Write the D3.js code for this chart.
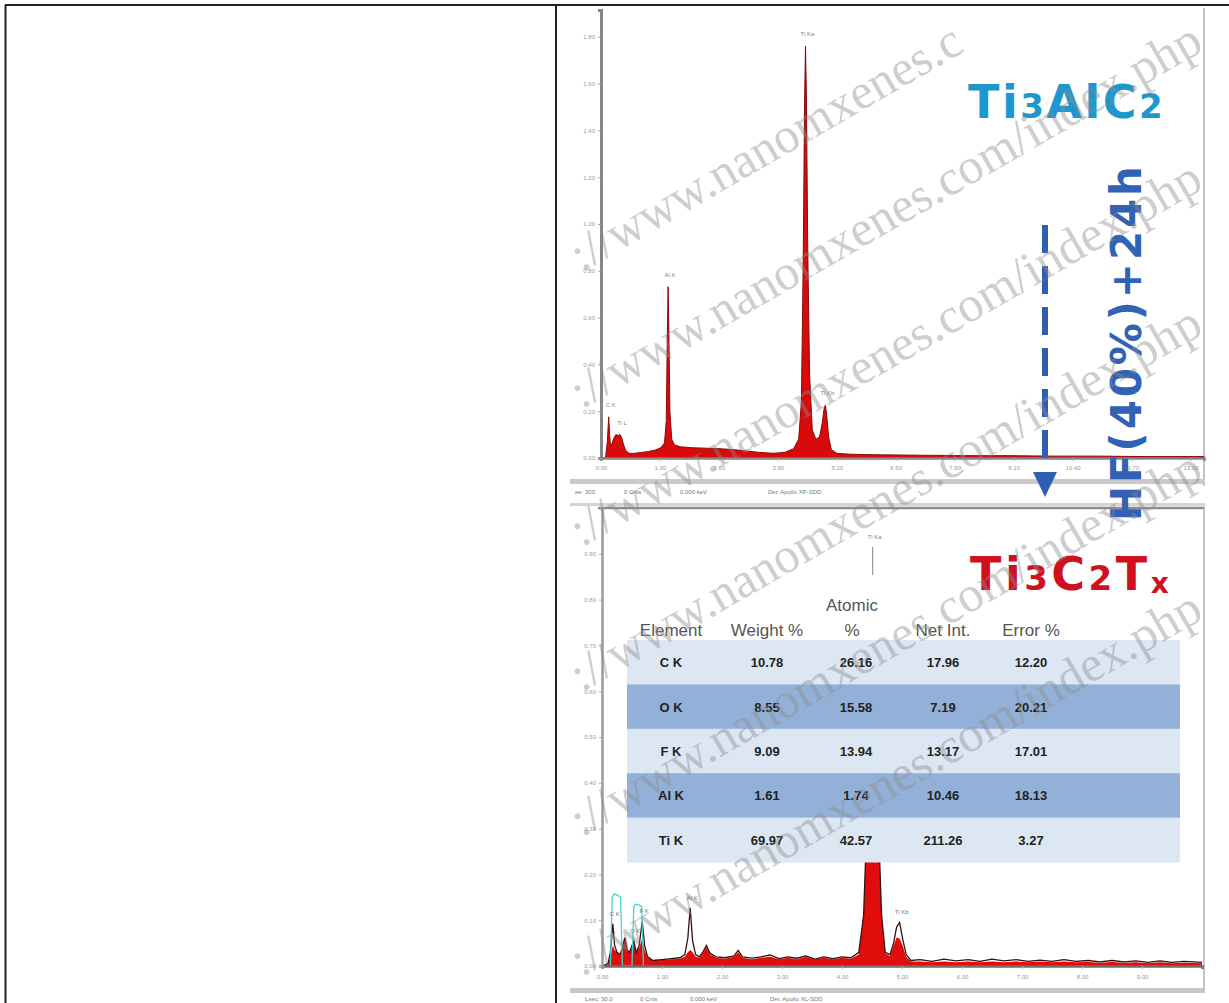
<!DOCTYPE html>
<html><head><meta charset="utf-8">
<script src="https://cdn.jsdelivr.net/npm/d3@7"></script>
<style>body{margin:0;background:#fff}svg{display:block}</style>
</head><body>
<svg id="c" width="1229" height="1003"></svg>
<script>
// ---------- DATA ----------
// Top spectrum: Ti3AlC2 (energy keV, intensity in axis units)
const topE = [0.00,0.10,0.14,0.17,0.19,0.21,0.24,0.28,0.33,0.38,0.42,0.46,0.50,0.55,0.62,0.75,0.90,1.05,1.20,1.32,1.40,1.44,1.46,1.48,1.50,1.52,1.56,1.62,1.75,2.00,2.30,2.60,2.90,3.20,3.50,3.80,4.05,4.25,4.36,4.42,4.46,4.49,4.51,4.53,4.56,4.60,4.66,4.74,4.82,4.88,4.92,4.95,4.98,5.02,5.08,5.20,5.50,6.00,7.00,8.00,9.00,10.00,11.00,12.00,13.30];
const topV = [0,0,0.35,0.88,0.5,0.25,0.3,0.42,0.5,0.48,0.5,0.42,0.28,0.15,0.1,0.1,0.12,0.14,0.17,0.22,0.32,0.8,2.4,3.66,2.5,1.0,0.4,0.28,0.24,0.22,0.21,0.2,0.18,0.15,0.12,0.1,0.12,0.2,0.4,1.2,4.2,7.6,8.8,7.8,4.5,1.8,0.6,0.4,0.45,0.75,1.05,1.13,0.9,0.45,0.18,0.1,0.08,0.07,0.06,0.05,0.05,0.04,0.04,0.03,0.03];
const topXTicks = [0,1.3,2.6,3.9,5.2,6.5,7.8,9.1,10.4,11.7,13.0];
const topYTicks = [0,1,2,3,4,5,6,7,8,9];
const topYLabels = ["0.00","0.20","0.40","0.60","0.80","1.00","1.20","1.40","1.60","1.80"];
const topPeakNames = ["C K","Ti L","Al K","Ti Ka","Ti Kb"];
const topPeakE = [0.17,0.42,1.48,4.51,4.95];
const topPeakV = [0.88,0.5,3.66,8.8,1.13];

// Bottom spectrum: Ti3C2Tx
const botE = [0.00,0.10,0.14,0.18,0.21,0.25,0.30,0.34,0.38,0.42,0.46,0.50,0.53,0.57,0.62,0.67,0.71,0.76,0.85,1.00,1.15,1.30,1.38,1.43,1.47,1.51,1.56,1.62,1.68,1.74,1.80,1.90,2.05,2.20,2.27,2.34,2.50,2.65,2.80,2.95,3.10,3.25,3.40,3.55,3.70,3.85,4.00,4.15,4.28,4.36,4.40,4.45,4.51,4.57,4.62,4.66,4.72,4.80,4.86,4.91,4.96,5.01,5.07,5.15,5.30,5.50,5.70,5.90,6.10,6.30,6.50,6.70,6.90,7.10,7.30,7.50,7.70,7.90,8.10,8.30,8.50,8.70,8.90,9.10,9.30,9.50,9.70,10.00];
const botBlack = [0,0.05,0.3,0.92,0.45,0.3,0.25,0.4,0.62,0.35,0.3,0.45,0.55,0.3,0.45,0.98,0.45,0.2,0.12,0.14,0.16,0.18,0.25,0.6,1.27,0.55,0.25,0.2,0.3,0.45,0.28,0.2,0.18,0.22,0.34,0.2,0.17,0.2,0.24,0.16,0.2,0.17,0.22,0.15,0.2,0.16,0.2,0.18,0.3,1.1,2.6,6.0,8.3,6.0,2.6,1.1,0.3,0.25,0.5,0.85,0.95,0.6,0.25,0.12,0.14,0.1,0.15,0.11,0.14,0.1,0.15,0.11,0.14,0.1,0.13,0.1,0.14,0.1,0.12,0.09,0.12,0.09,0.11,0.08,0.11,0.08,0.1,0.08];
const botRed = [0,0.03,0.2,0.45,0.35,0.3,0.25,0.4,0.55,0.35,0.3,0.4,0.5,0.3,0.4,0.6,0.35,0.18,0.12,0.13,0.15,0.16,0.2,0.3,0.35,0.3,0.2,0.18,0.28,0.42,0.25,0.18,0.16,0.2,0.3,0.18,0.15,0.18,0.2,0.15,0.18,0.15,0.2,0.14,0.18,0.15,0.18,0.16,0.25,1.1,2.6,6.0,8.3,6.0,2.6,1.1,0.28,0.22,0.45,0.62,0.6,0.45,0.2,0.1,0.1,0.08,0.1,0.08,0.1,0.08,0.1,0.08,0.1,0.08,0.1,0.08,0.1,0.08,0.09,0.07,0.09,0.07,0.08,0.06,0.08,0.06,0.07,0.06];
const cyanE = [0.14,0.17,0.20,0.26,0.31,0.34,0.50,0.53,0.56,0.62,0.66,0.69];
const cyanV = [0,1.5,1.57,1.55,1.5,0,0,1.3,1.35,1.33,1.3,0];
const botXTicks = [0,1,2,3,4,5,6,7,8,9];
const botYTicks = [0,1,2,3,4,5,6,7,8,9];
const botYLabels = ["0.00","0.10","0.20","0.30","0.40","0.50","0.60","0.70","0.80","0.90"];
const botPeakNames = ["C K","O K","F K","Al K","Ti Kb"];
const botPeakE = [0.18,0.52,0.67,1.47,4.96];
const botPeakV = [0.92,0.55,0.98,1.27,0.95];

// EDS quantification table
const tableHeader = ["Element","Weight %","Atomic %","Net Int.","Error %"];
const elements = ["C K","O K","F K","Al K","Ti K"];
const weightPct = [10.78,8.55,9.09,1.61,69.97];
const atomicPct = [26.16,15.58,13.94,1.74,42.57];
const netInt = [17.96,7.19,13.17,10.46,211.26];
const errorPct = [12.20,20.21,17.01,18.13,3.27];

const watermarkText = "p://www.nanomxenes.com/index.php";

// ---------- DRAW ----------
const svg = d3.select("#c");
svg.append("rect").attr("width",1229).attr("height",1003).attr("fill","#fff");

// table-cell borders
const bd = svg.append("g").attr("stroke","#222").attr("stroke-width",2);
bd.append("line").attr("x1",5).attr("x2",1229).attr("y1",5).attr("y2",5);
bd.append("line").attr("x1",5.5).attr("x2",5.5).attr("y1",5).attr("y2",1003);
bd.append("line").attr("x1",556).attr("x2",556).attr("y1",5).attr("y2",1003);

const tickFont = "Liberation Sans, Arial, sans-serif";

// ----- Top spectrum -----
const tx = d3.scaleLinear().domain([0,13.3]).range([601,1204]);
const ty = d3.scaleLinear().domain([0,9.57]).range([458,10]);
const topData = topE.map((e,i)=>[e,topV[i]]);

svg.append("line").attr("x1",1204).attr("x2",1204).attr("y1",8).attr("y2",486).attr("stroke","#c4c4c4").attr("stroke-width",2);

svg.append("path").datum(topData)
  .attr("d", d3.area().x(d=>tx(d[0])).y0(ty(0)).y1(d=>ty(d[1])))
  .attr("fill","#d80a0a").attr("stroke","#8a0a0a").attr("stroke-width",1);

const gxT = svg.append("g").attr("transform",`translate(0,${ty(0)})`)
  .call(d3.axisBottom(tx).tickValues(topXTicks).tickFormat(d3.format(".2f")).tickSize(3).tickPadding(5));
const gyT = svg.append("g").attr("transform",`translate(${tx(0)},0)`)
  .call(d3.axisLeft(ty).tickValues(topYTicks).tickFormat((d,i)=>topYLabels[i]).tickSize(3).tickPadding(3));
gxT.select(".domain").attr("stroke","#858585").attr("stroke-width",2.5);
gyT.select(".domain").attr("stroke","#858585").attr("stroke-width",3);
[gxT,gyT].forEach(g=>{
  g.selectAll(".tick line").attr("stroke","#aaa");
  g.selectAll(".tick text").attr("fill","#9a9a9a").attr("font-size",6).attr("font-family",tickFont);
});

svg.append("g").selectAll("text").data(topPeakNames).join("text")
  .attr("x",(d,i)=>tx(topPeakE[i])+2).attr("y",(d,i)=>ty(topPeakV[i])-10)
  .attr("text-anchor","middle").attr("font-size",6).attr("fill","#888").attr("font-family",tickFont)
  .text(d=>d);

// status bar under top spectrum
svg.append("rect").attr("x",570).attr("y",479).attr("width",635).attr("height",5).attr("fill","#cacaca");
const stat1 = ["ee: 300","0 Cnts","0.000 keV","Det: Apollo XP-SDD"];
const statX = [575,624,680,768];
svg.append("g").selectAll("text").data(stat1).join("text")
  .attr("x",(d,i)=>statX[i]).attr("y",494).attr("font-size",6).attr("fill","#777").attr("font-family",tickFont).text(d=>d);
svg.append("rect").attr("x",570).attr("y",503).attr("width",635).attr("height",3).attr("fill","#d4d4d4");

// ----- Bottom spectrum -----
const bx = d3.scaleLinear().domain([0,10]).range([602,1202]);
const by = d3.scaleLinear().domain([0,10]).range([966,508]);

svg.append("line").attr("x1",598).attr("x2",1205).attr("y1",508).attr("y2",508).attr("stroke","#8c8c8c").attr("stroke-width",2.5);
svg.append("line").attr("x1",1204).attr("x2",1204).attr("y1",508).attr("y2",988).attr("stroke","#c4c4c4").attr("stroke-width",2);

const redData = botE.map((e,i)=>[e,botRed[i]]);
const blackData = botE.map((e,i)=>[e,botBlack[i]]);
const cyanData = cyanE.map((e,i)=>[e,cyanV[i]]);

svg.append("path").datum(redData)
  .attr("d", d3.area().x(d=>bx(d[0])).y0(by(0)).y1(d=>by(d[1])))
  .attr("fill","#e00d0d");
svg.append("path").datum(blackData)
  .attr("d", d3.line().x(d=>bx(d[0])).y(d=>by(d[1])))
  .attr("fill","none").attr("stroke","#3a1010").attr("stroke-width",1.3);
svg.append("path").datum(cyanData)
  .attr("d", d3.line().x(d=>bx(d[0])).y(d=>by(d[1])))
  .attr("fill","none").attr("stroke","#3ed6d6").attr("stroke-width",1.3);

const gxB = svg.append("g").attr("transform",`translate(0,${by(0)})`)
  .call(d3.axisBottom(bx).tickValues(botXTicks).tickFormat(d3.format(".2f")).tickSize(3).tickPadding(6));
const gyB = svg.append("g").attr("transform",`translate(${bx(0)},0)`)
  .call(d3.axisLeft(by).tickValues(botYTicks).tickFormat((d,i)=>botYLabels[i]).tickSize(3).tickPadding(3));
gxB.select(".domain").attr("stroke","#6f6f6f").attr("stroke-width",2.5);
gyB.select(".domain").attr("stroke","#9a9a9a").attr("stroke-width",2.5);
[gxB,gyB].forEach(g=>{
  g.selectAll(".tick line").attr("stroke","#aaa");
  g.selectAll(".tick text").attr("fill","#9a9a9a").attr("font-size",6).attr("font-family",tickFont);
});

svg.append("g").selectAll("text").data(botPeakNames).join("text")
  .attr("x",(d,i)=>bx(botPeakE[i])+2).attr("y",(d,i)=>by(botPeakV[i])-8)
  .attr("text-anchor","middle").attr("font-size",6).attr("fill","#777").attr("font-family",tickFont)
  .text(d=>d);

// status bar under bottom spectrum
svg.append("rect").attr("x",570).attr("y",988).attr("width",635).attr("height",5).attr("fill","#c6c6c6");
const stat2 = ["Lsec: 30.0","0 Cnts","0.000 keV","Det: Apollo XL-SDD"];
const stat2X = [585,640,690,770];
svg.append("g").selectAll("text").data(stat2).join("text")
  .attr("x",(d,i)=>stat2X[i]).attr("y",1001).attr("font-size",6).attr("fill","#777").attr("font-family",tickFont).text(d=>d);

// ----- Table (overlaid on the spectrum) -----
const rowY = d3.scaleBand().domain(elements).range([640,862]);
const colX = [671,767,856,943,1031];
const tbl = svg.append("g");
tbl.append("rect").attr("x",627).attr("y",576).attr("width",553).attr("height",64).attr("fill","#fff");
tbl.selectAll("rect.row").data(elements).join("rect").attr("class","row")
  .attr("x",627).attr("width",553).attr("y",d=>rowY(d)).attr("height",rowY.bandwidth()+0.5)
  .attr("fill",(d,i)=>i%2? "#93b1d8" : "#dde7f3");
tbl.selectAll("text.h").data(tableHeader).join("text").attr("class","h")
  .attr("x",(d,i)=>colX[i]).attr("y",636).attr("text-anchor","middle")
  .attr("font-size",17).attr("fill","#555").attr("font-family",tickFont)
  .each(function(d,i){
    const t = d3.select(this);
    if (i===2) {
      t.append("tspan").attr("x",colX[i]-4).attr("dy",-25).text("Atomic");
      t.append("tspan").attr("x",colX[i]-4).attr("dy",25).text("%");
    } else t.text(d);
  });
const cols = [elements, weightPct, atomicPct, netInt, errorPct];
cols.forEach((col,ci)=>{
  tbl.selectAll("text.c"+ci).data(col).join("text").attr("class","c"+ci)
    .attr("x",colX[ci]).attr("y",(d,i)=>rowY(elements[i])+rowY.bandwidth()/2+5)
    .attr("text-anchor","middle").attr("font-size",13).attr("font-weight","bold")
    .attr("fill","#222").attr("font-family",tickFont)
    .text(d=> typeof d==="number" ? d3.format(".2f")(d) : d);
});

// Ti Ka label above the table
svg.append("text").attr("x",bx(4.51)+2).attr("y",539).attr("text-anchor","middle")
  .attr("font-size",6).attr("fill","#888").attr("font-family",tickFont).text("Ti Ka");
svg.append("line").attr("x1",bx(4.51)).attr("x2",bx(4.51)).attr("y1",547).attr("y2",575)
  .attr("stroke","#999").attr("stroke-width",1.2);

// ----- Titles -----
const titleFont = "DejaVu Sans, Verdana, sans-serif";
const t1 = svg.append("text").attr("x",968).attr("y",118).attr("font-family",titleFont)
  .attr("font-weight","bold").attr("fill","#1d98cf").attr("letter-spacing",2.5).attr("font-size",46);
[["Ti",46],["3",34],["Al",46],["C",46],["2",34]].forEach(([s,f])=>t1.append("tspan").attr("font-size",f).text(s));

const t2 = svg.append("text").attr("x",970).attr("y",590).attr("font-family",titleFont)
  .attr("font-weight","bold").attr("fill","#d0101e").attr("letter-spacing",3.5).attr("font-size",46);
[["Ti",46,0],["3",34,0],["C",46,0],["2",34,0],["T",46,0],["x",28,3]].forEach(([s,f,dy])=>{
  t2.append("tspan").attr("font-size",f).attr("dy",dy).text(s);
});

// dashed arrow
svg.append("line").attr("x1",1045).attr("x2",1045).attr("y1",225).attr("y2",470)
  .attr("stroke","#2f5fb5").attr("stroke-width",6).attr("stroke-dasharray","28,13");
svg.append("path").attr("d","M1033,472L1057,472L1045,497Z").attr("fill","#2f5fb5");

svg.append("text").attr("transform","translate(1141,521) rotate(-90)")
  .attr("font-family",titleFont).attr("font-weight","bold").attr("font-size",42)
  .attr("fill","#3262b4").attr("textLength",355).attr("lengthAdjust","spacing")
  .text("HF(40%)+24h");

// ----- Watermark (kept to the characters that fall inside the right cell) -----
const wmY = [285,422,560,705,850,990];
const wmSize = 50, ang = -30*Math.PI/180, ca = Math.cos(ang), sa = Math.sin(ang);
const bounds = {x0:559, x1:1227, y0:8, y1:1001};
const wmG = svg.append("g");
wmY.forEach(y0=>{
  const t = wmG.append("text").attr("transform",`translate(560,${y0}) rotate(-30)`)
    .attr("font-family","Liberation Serif, Times New Roman, serif").attr("font-size",wmSize)
    .attr("fill","#8c8c8c").attr("opacity",0.42).text(watermarkText);
  const node = t.node(), n = watermarkText.length;
  const inside = [];
  for (let i=0;i<n;i++){
    const s = node.getStartPositionOfChar(i).x, e = node.getEndPositionOfChar(i).x;
    let ok = true;
    [[s,-0.78*wmSize],[e,-0.78*wmSize],[s,0.22*wmSize],[e,0.22*wmSize]].forEach(([u,v])=>{
      const X = 560 + u*ca - v*sa, Y = y0 + u*sa + v*ca;
      if (X<bounds.x0||X>bounds.x1||Y<bounds.y0||Y>bounds.y1) ok=false;
    });
    inside.push(ok);
  }
  let best=[0,-1], cur=-1;
  for (let i=0;i<=n;i++){
    if (i<n && inside[i]) { if (cur<0) cur=i; }
    else if (cur>=0){ if (i-1-cur > best[1]-best[0]) best=[cur,i-1]; cur=-1; }
  }
  if (best[1]<best[0]) { t.remove(); return; }
  const xs = node.getStartPositionOfChar(best[0]).x;
  t.attr("x",xs).text(watermarkText.slice(best[0],best[1]+1));
});
</script>
</body></html>
